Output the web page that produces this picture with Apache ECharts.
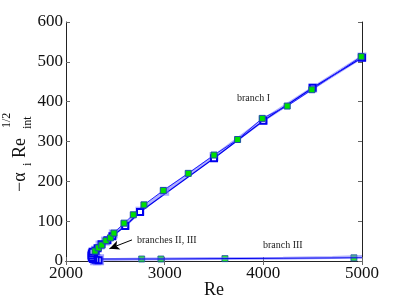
<!DOCTYPE html>
<html><head><meta charset="utf-8">
<script src="https://cdn.jsdelivr.net/npm/echarts@6/dist/echarts.min.js"></script>
<style>html,body{margin:0;padding:0;background:#fff}#c{width:399px;height:300px}</style>
</head><body><div id="c"></div>
<script>
// ---- data ----
var xTicks = [2000, 3000, 4000, 5000];
var yTicks = [0, 100, 200, 300, 400, 500, 600];
// branch I, light (thick translucent) curve
var b1LightRe  = [2268, 2278, 2298, 2345, 2400, 2480, 2600, 2750, 3000, 3500, 4000, 4500, 5000];
var b1LightVal = [8, 18, 27, 40, 50, 68, 90, 125, 175, 262, 354, 434, 512];
// branch I, blue open squares
var b1BlueRe  = [2265, 2272, 2285, 2300, 2320, 2360, 2420, 2470, 2600, 2750, 3500, 4000, 4500, 5000];
var b1BlueVal = [10, 16, 21, 26, 32, 42, 52, 62, 88, 123, 258, 352, 435, 510];
// branch I, green filled squares
var b1GreenRe  = [2294, 2328, 2362, 2405, 2450, 2486, 2588, 2682, 2790, 2986, 3239, 3500, 3739, 3989, 4242, 4492, 4992];
var b1GreenVal = [25, 33, 40, 51, 58, 70, 95, 116, 141, 177, 220, 266, 305, 358, 389, 430, 513];
// branch II (turning region near the bottom)
var b2Re  = [2330, 2300, 2275, 2262, 2258, 2262, 2270];
var b2Val = [2, 3, 5, 9, 14, 19, 23];
// branch III light curve
var b3LightRe  = [2300, 2330, 2800, 3500, 4200, 4700, 5000];
var b3LightVal = [4, 3, 5, 6, 7, 9, 11];
// branch III blue curve
var b3BlueRe  = [2300, 2330, 2767, 2962, 3611, 4200, 4918, 5000];
var b3BlueVal = [5, 5, 5, 5, 6, 7, 8, 8];
// branch III green squares
var b3GreenRe  = [2767, 2962, 3611, 4918];
var b3GreenVal = [5, 5, 6, 8];
// bottom light squares
var b3SqRe  = [2300, 2330];
var b3SqVal = [3, 3];

function zip(a, b) { return a.map(function (v, i) { return [v, b[i]]; }); }

var chart = echarts.init(document.getElementById('c'));
var serif = 'Liberation Serif';
var lightC = 'rgba(110,110,255,0.55)';
var blueC = '#0000ee';

var axisBase = {
  type: 'value',
  axisLine: { show: true, lineStyle: { color: '#222', width: 1 } },
  axisTick: { show: true, inside: true, length: 4, lineStyle: { color: '#666' } },
  splitLine: { show: false }
};
function plain(v) { return String(v); }

var option = {
  animation: false,
  backgroundColor: '#fff',
  grid: { left: 66, right: 37, top: 22, bottom: 39, containLabel: false, outerBoundsMode: 'none' },
  xAxis: [
    Object.assign({}, axisBase, {
      min: xTicks[0], max: xTicks[xTicks.length - 1], interval: 1000, position: 'bottom',
      axisLabel: { fontFamily: serif, fontSize: 17, color: '#111', margin: 4, formatter: plain },
      name: 'Re', nameLocation: 'middle', nameGap: 20, nameMoveOverlap: false,
      nameTextStyle: { fontFamily: serif, fontSize: 18, color: '#111', verticalAlign: 'top' }
    }),
    Object.assign({}, axisBase, {
      min: xTicks[0], max: xTicks[xTicks.length - 1], interval: 1000, position: 'top',
      axisLabel: { show: false }
    })
  ],
  yAxis: [
    Object.assign({}, axisBase, {
      min: yTicks[0], max: yTicks[yTicks.length - 1], interval: 100, position: 'left',
      axisLabel: { fontFamily: serif, fontSize: 17, color: '#111', margin: 3, formatter: plain }
    }),
    Object.assign({}, axisBase, {
      min: yTicks[0], max: yTicks[yTicks.length - 1], interval: 100, position: 'right',
      axisLabel: { show: false }
    })
  ],
  series: [
    { type: 'line', data: zip(b1LightRe, b1LightVal), symbol: 'rect', symbolSize: 9,
      itemStyle: { color: lightC }, lineStyle: { color: lightC, width: 3.5 } },
    { type: 'line', data: zip(b2Re, b2Val), symbol: 'rect', symbolSize: 8,
      itemStyle: { color: lightC }, lineStyle: { color: lightC, width: 3.5 } },
    { type: 'line', data: zip(b3LightRe, b3LightVal), symbol: 'none',
      lineStyle: { color: lightC, width: 3 } },
    { type: 'scatter', data: zip(b3SqRe, b3SqVal), symbol: 'emptyRect', symbolSize: 9,
      itemStyle: { color: 'rgba(110,110,255,0.8)', borderWidth: 1.5 } },
    { type: 'line', data: zip(b1BlueRe, b1BlueVal), symbol: 'emptyRect', symbolSize: 6,
      itemStyle: { color: blueC, borderWidth: 1 }, lineStyle: { color: blueC, width: 1.2 } },
    { type: 'line', data: zip(b2Re, b2Val), symbol: 'emptyRect', symbolSize: 6,
      itemStyle: { color: blueC, borderWidth: 1 }, lineStyle: { color: blueC, width: 1.2 } },
    { type: 'line', data: zip(b3BlueRe, b3BlueVal), symbol: 'none',
      lineStyle: { color: blueC, width: 1 } },
    { type: 'line', data: zip(b1GreenRe, b1GreenVal), symbol: 'rect', symbolSize: 6,
      itemStyle: { color: '#00e000', borderColor: '#1d4fa8', borderWidth: 1 },
      lineStyle: { color: '#2020ff', width: 1 },
      markLine: {
        silent: true, symbol: ['none', 'arrow'], symbolSize: [7, 10],
        lineStyle: { color: '#000', width: 1, type: 'solid' },
        label: { show: false },
        data: [[{ coord: [2669, 53] }, { coord: [2440, 31] }]]
      } },
    { type: 'scatter', data: zip(b3GreenRe, b3GreenVal), symbol: 'rect', symbolSize: 6,
      itemStyle: { color: '#00e000', borderColor: '#1d4fa8', borderWidth: 1 } }
  ],
  graphic: [
    { type: 'text', left: 237, top: 93, style: { text: 'branch I', font: '10px ' + serif, fill: '#222' } },
    { type: 'text', left: 263, top: 240, style: { text: 'branch III', font: '10px ' + serif, fill: '#222' } },
    { type: 'text', left: 137, top: 235, style: { text: 'branches II, III', font: '10px ' + serif, fill: '#222' } },
    { type: 'group', x: 25, y: 192, rotation: Math.PI / 2, children: [
      { type: 'text', x: 0, y: 4, style: { text: '\u2212\u03b1', font: '18px ' + serif, fill: '#111', verticalAlign: 'bottom' } },
      { type: 'text', x: 26, y: 9, style: { text: 'i', font: '12px ' + serif, fill: '#111', verticalAlign: 'bottom' } },
      { type: 'text', x: 34, y: 4, style: { text: 'Re', font: '18px ' + serif, fill: '#111', verticalAlign: 'bottom' } },
      { type: 'text', x: 64, y: -12, style: { text: '1/2', font: '12px ' + serif, fill: '#111', verticalAlign: 'bottom' } },
      { type: 'text', x: 63, y: 9, style: { text: 'int', font: '12px ' + serif, fill: '#111', verticalAlign: 'bottom' } }
    ] }
  ]
};
chart.setOption(option);
</script>
</body></html>
